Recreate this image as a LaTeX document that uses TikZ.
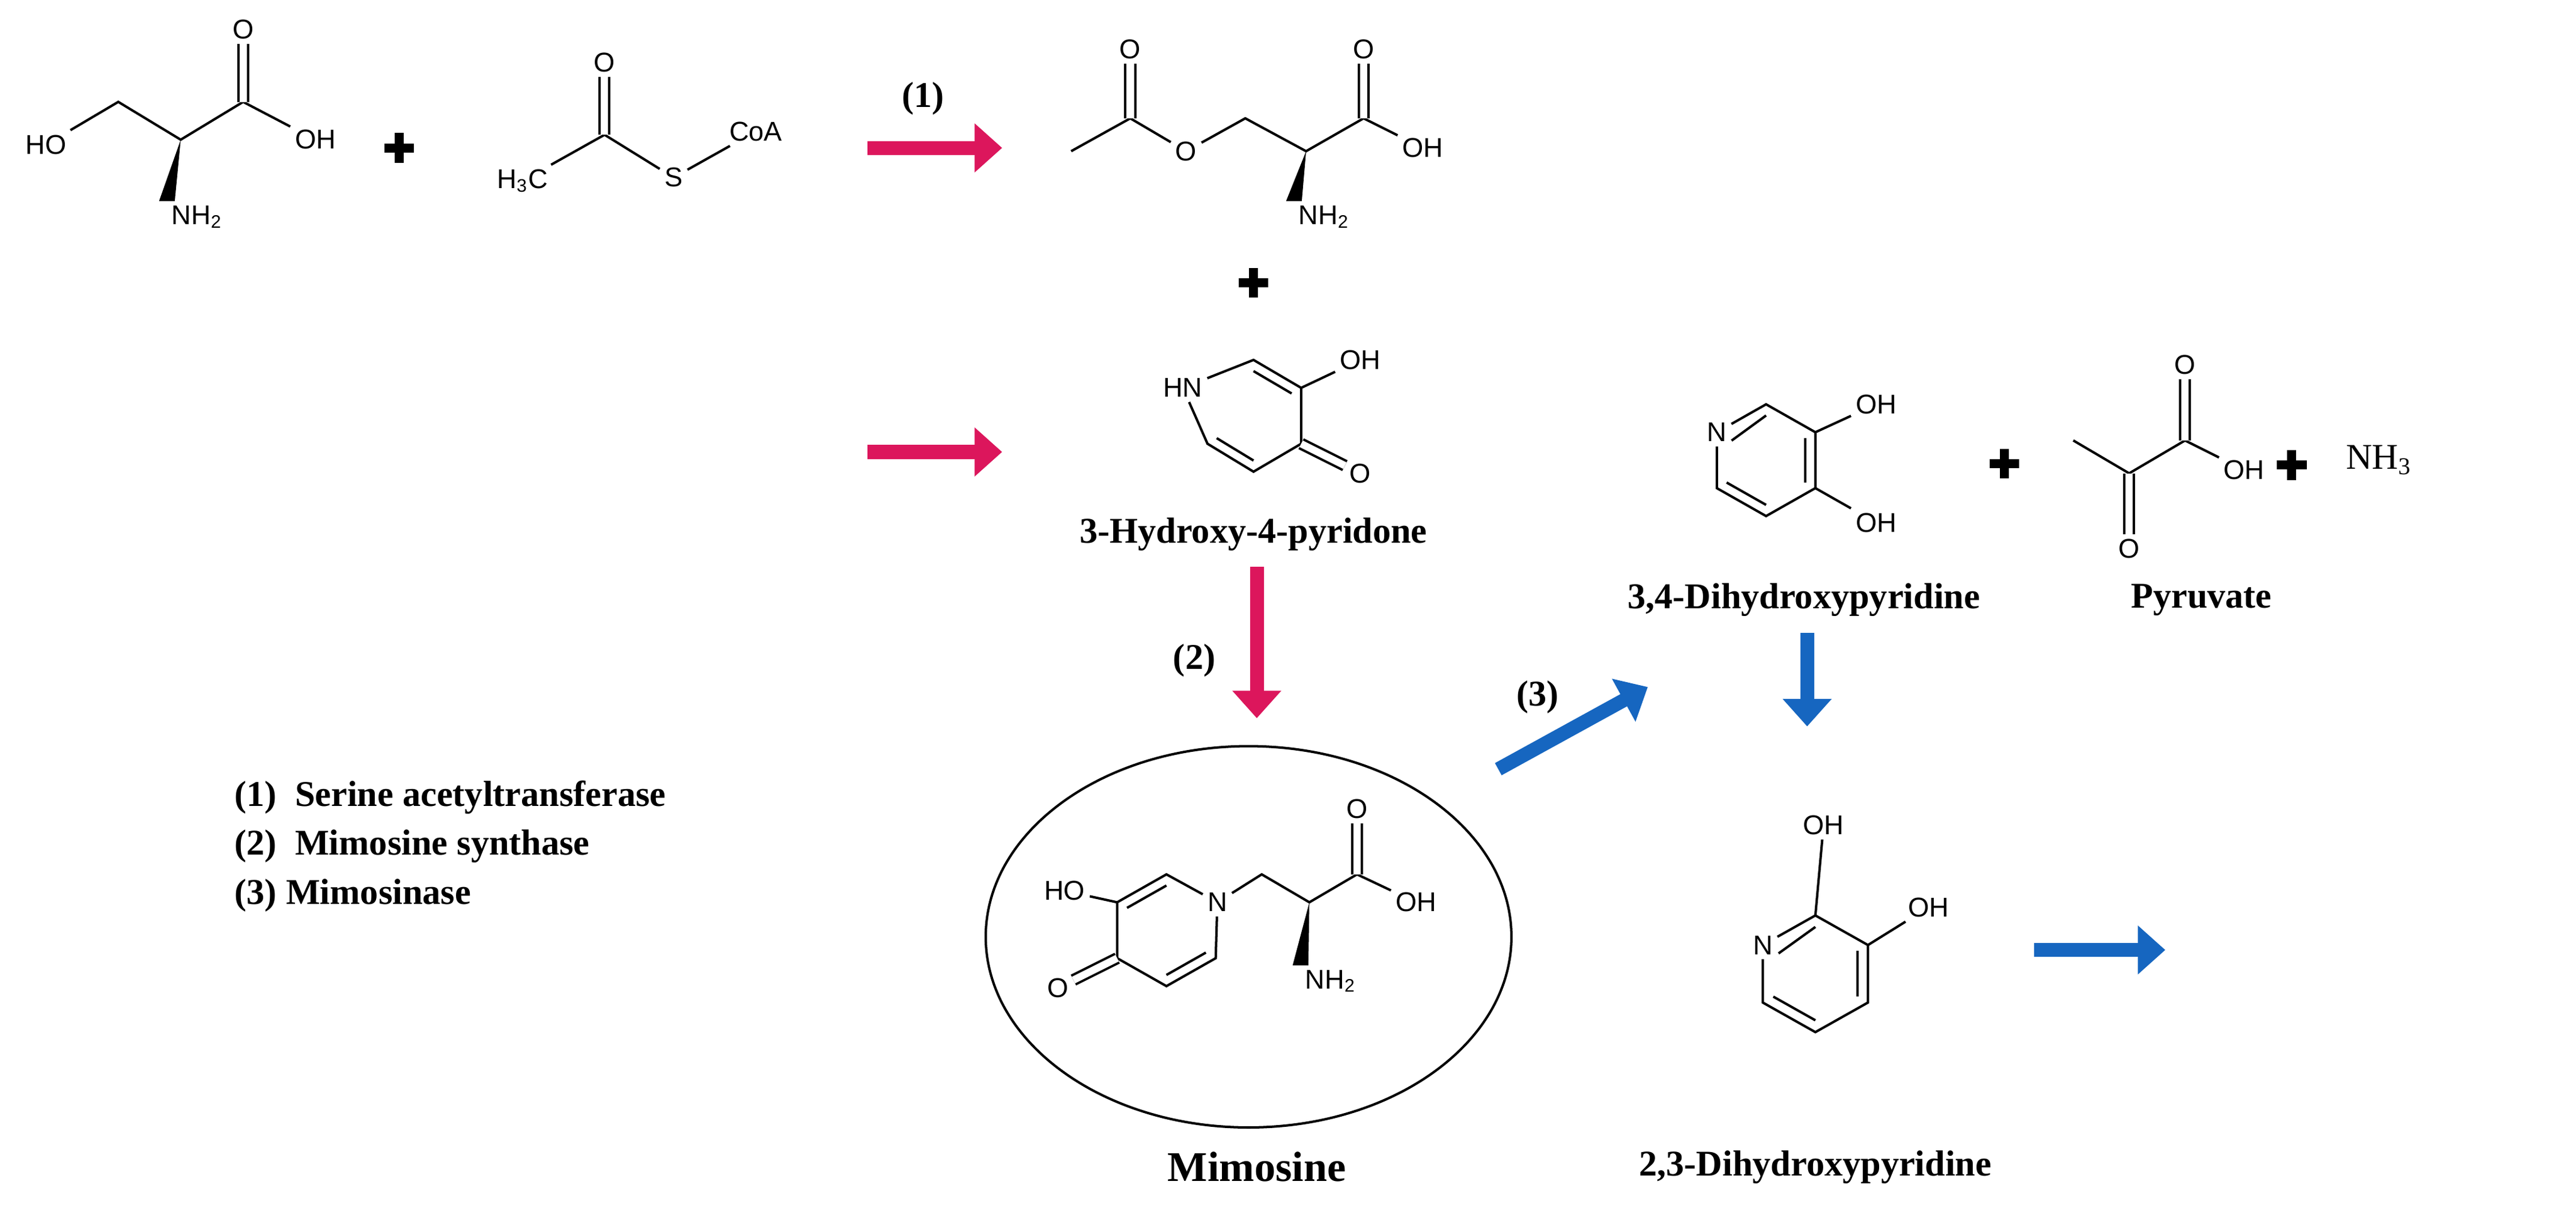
\documentclass[tikz,border=0pt]{standalone}
\usepackage{fontspec}
\setmainfont{Liberation Serif}
\setsansfont{Liberation Sans}
\usetikzlibrary{calc,arrows.meta}
\definecolor{rxpink}{RGB}{220,22,92}
\definecolor{rxblue}{RGB}{22,102,192}
\begin{document}
\begin{tikzpicture}[x=0.01913cm,y=-0.01913cm,line width=0.8pt,
  atom/.style={font=\sffamily\fontsize{9}{10}\selectfont,inner sep=1.2pt},
  lbl/.style={font=\bfseries\fontsize{12}{14}\selectfont},
  dbl/.style={double,double distance=2.4pt},
  plussign/.style={line width=3pt},
  rxn/.style={line width=4.6pt,-{Triangle[length=0.32cm,width=0.55cm]}}]
\useasboundingbox (0,0) rectangle (1568,735);

% serine
\node[atom] (s1) at (28,88) {HO};
\coordinate (s2) at (72,62);
\coordinate (s3) at (110,85);
\coordinate (s4) at (148,62);
\node[atom] (s5) at (148,18) {O};
\node[atom] (s6) at (192,85) {OH};
\node[atom] (s7) at (120,132) {NH\textsubscript{2}};
\draw (s1) -- (s2) -- (s3) -- (s4) -- (s6);
\draw[dbl] (s4) -- (s5);
\fill (s3) -- ([xshift=-2.6pt]s7.north west) -- ([xshift=2.6pt]s7.north west) -- cycle;

% acetyl-CoA
\node[atom] (a1) at (318,110) {H\textsubscript{3}C};
\coordinate (a2) at (368,82);
\node[atom] (a3) at (368,38) {O};
\node[atom] (a4) at (410,108) {S};
\node[atom] (a5) at (460,80) {CoA};
\draw (a1) -- (a2) -- (a4) -- (a5);
\draw[dbl] (a2) -- (a3);

% O-acetylserine
\coordinate (b1) at (652,92);
\coordinate (b2) at (688,72);
\node[atom] (b3) at (688,30) {O};
\node[atom] (b4) at (722,92) {O};
\coordinate (b5) at (758,72);
\coordinate (b6) at (795,92);
\coordinate (b7) at (830,72);
\node[atom] (b8) at (830,30) {O};
\node[atom] (b9) at (866,90) {OH};
\node[atom] (b10) at (806,132) {NH\textsubscript{2}};
\draw (b1) -- (b2) -- (b4) -- (b5) -- (b6) -- (b7) -- (b9);
\draw[dbl] (b2) -- (b3);
\draw[dbl] (b7) -- (b8);
\fill (b6) -- ([xshift=-2.6pt]b10.north west) -- ([xshift=2.6pt]b10.north west) -- cycle;

% 3-hydroxy-4-pyridone
\coordinate (rc) at (763,253);
\node[atom] (r1) at (720,236) {HN};
\coordinate (r2) at (763,219);
\coordinate (r3) at (792,236);
\coordinate (r4) at (792,270);
\coordinate (r5) at (763,287);
\coordinate (r6) at (735,270);
\node[atom] (r7) at (828,219) {OH};
\node[atom] (r8) at (828,288) {O};
\draw (r1) -- (r2) -- (r3) -- (r4) -- (r5) -- (r6) -- (r1);
\draw ($(r2)!0.2!(rc)$) -- ($(r3)!0.2!(rc)$);
\draw ($(r5)!0.2!(rc)$) -- ($(r6)!0.2!(rc)$);
\draw (r3) -- (r7);
\draw[dbl] (r4) -- (r8);
\node[lbl] (pyr) at (763,325) {3-Hydroxy-4-pyridone};

% mimosine
\draw (760,570) ellipse [x radius=160,y radius=116];
\coordinate (mc) at (710,566);
\coordinate (m1) at (680,549);
\coordinate (m2) at (710,532);
\node[atom] (m3) at (741,549) {N};
\coordinate (m4) at (740,583);
\coordinate (m5) at (710,600);
\coordinate (m6) at (680,583);
\node[atom] (m7) at (648,542) {HO};
\node[atom] (m8) at (644,601) {O};
\coordinate (m9) at (768,532);
\coordinate (m10) at (797,549);
\coordinate (m11) at (826,532);
\node[atom] (m12) at (826,492) {O};
\node[atom] (m13) at (862,549) {OH};
\node[atom] (m14) at (810,597) {NH\textsubscript{2}};
\draw (m1) -- (m2) -- (m3) -- (m4) -- (m5) -- (m6) -- (m1);
\draw ($(m1)!0.2!(mc)$) -- ($(m2)!0.2!(mc)$);
\draw ($(m4)!0.2!(mc)$) -- ($(m5)!0.2!(mc)$);
\draw (m1) -- (m7);
\draw[dbl] (m6) -- (m8);
\draw (m3) -- (m9) -- (m10) -- (m11) -- (m13);
\draw[dbl] (m11) -- (m12);
\fill (m10) -- ([xshift=-2.6pt]m14.north west) -- ([xshift=2.6pt]m14.north west) -- cycle;
\node[lbl,font=\bfseries\fontsize{14}{16}\selectfont] (mim) at (765,710) {Mimosine};

% 3,4-dihydroxypyridine
\coordinate (vc) at (1075,280);
\node[atom] (v1) at (1045,263) {N};
\coordinate (v2) at (1075,246);
\coordinate (v3) at (1105,263);
\coordinate (v4) at (1105,297);
\coordinate (v5) at (1075,314);
\coordinate (v6) at (1045,297);
\node[atom] (v7) at (1142,246) {OH};
\node[atom] (v8) at (1142,318) {OH};
\draw (v1) -- (v2) -- (v3) -- (v4) -- (v5) -- (v6) -- (v1);
\draw ($(v1)!0.3!(vc)$) -- ($(v2)!0.2!(vc)$);
\draw ($(v3)!0.2!(vc)$) -- ($(v4)!0.2!(vc)$);
\draw ($(v5)!0.2!(vc)$) -- ($(v6)!0.2!(vc)$);
\draw (v3) -- (v7);
\draw (v4) -- (v8);
\node[lbl] (dhp34) at (1098,365) {3,4-Dihydroxypyridine};

% pyruvate
\coordinate (p1) at (1262,268);
\coordinate (p2) at (1296,288);
\node[atom] (p3) at (1296,334) {O};
\coordinate (p4) at (1330,268);
\node[atom] (p5) at (1330,222) {O};
\node[atom] (p6) at (1366,286) {OH};
\draw (p1) -- (p2) -- (p4) -- (p6);
\draw[dbl] (p2) -- (p3);
\draw[dbl] (p4) -- (p5);
\node[lbl] (pyru) at (1340,365) {Pyruvate};
\node[lbl,font=\fontsize{12}{14}\selectfont] (nh3) at (1448,280) {NH\textsubscript{3}};

% 2,3-dihydroxypyridine
\coordinate (wc) at (1105,592);
\node[atom] (w1) at (1073,575) {N};
\coordinate (w2) at (1105,557);
\coordinate (w3) at (1137,575);
\coordinate (w4) at (1137,610);
\coordinate (w5) at (1105,628);
\coordinate (w6) at (1073,610);
\node[atom] (w7) at (1110,502) {OH};
\node[atom] (w8) at (1174,552) {OH};
\draw (w1) -- (w2) -- (w3) -- (w4) -- (w5) -- (w6) -- (w1);
\draw ($(w1)!0.3!(wc)$) -- ($(w2)!0.2!(wc)$);
\draw ($(w3)!0.2!(wc)$) -- ($(w4)!0.2!(wc)$);
\draw ($(w5)!0.2!(wc)$) -- ($(w6)!0.2!(wc)$);
\draw (w2) -- (w7);
\draw (w3) -- (w8);
\node[lbl] (dhp23) at (1105,710) {2,3-Dihydroxypyridine};

% plus signs
\foreach \p in {(243,90),(763,172),(1220,282),(1395,283)}
  \draw[plussign] \p ++(-9,0) -- ++(18,0) \p ++(0,-9) -- ++(0,18);

% reaction arrows
\coordinate (e1a) at (528,90);  \coordinate (e1b) at (610,90);
\coordinate (e2a) at (528,275); \coordinate (e2b) at (610,275);
\coordinate (e3a) at (765,345); \coordinate (e3b) at (765,437);
\coordinate (e4a) at (912,468); \coordinate (e4b) at (1003,418);
\coordinate (e5a) at (1100,385); \coordinate (e5b) at (1100,442);
\coordinate (e6a) at (1238,578); \coordinate (e6b) at (1318,578);
\draw[rxn,rxpink] (e1a) -- (e1b);
\draw[rxn,rxpink] (e2a) -- (e2b);
\draw[rxn,rxpink] (e3a) -- (e3b);
\draw[rxn,rxblue] (e4a) -- (e4b);
\draw[rxn,rxblue] (e5a) -- (e5b);
\draw[rxn,rxblue] (e6a) -- (e6b);
\node[lbl] (l1) at (562,60) {(1)};
\node[lbl] (l2) at (727,402) {(2)};
\node[lbl] (l3) at (936,424) {(3)};

% legend
\node[lbl,anchor=west] (k1) at (136,485) {(1)\ \ Serine acetyltransferase};
\node[lbl,anchor=west] (k2) at (136,515) {(2)\ \ Mimosine synthase};
\node[lbl,anchor=west] (k3) at (136,545) {(3) Mimosinase};
\end{tikzpicture}
\end{document}
